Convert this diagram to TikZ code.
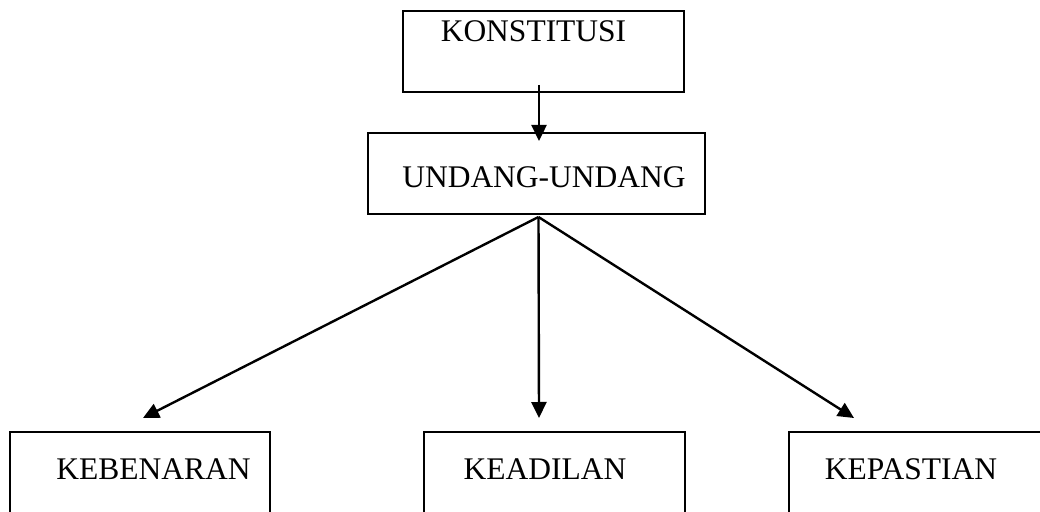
\documentclass[tikz,border=0pt]{standalone}
\usepackage{fontspec}
\setmainfont{Liberation Serif}
\usetikzlibrary{arrows.meta}

\tikzset{
	box/.style={draw, line width=2pt, inner sep=0pt, minimum height=81pt},
	lbl/.style={inner sep=0pt, font=\fontsize{31.5}{36}\selectfont},
	arr/.style={line width=2.4pt, -{Triangle[length=16pt,width=15pt]}}
}

\begin{document}
\begin{tikzpicture}[x=1pt,y=1pt]

	\useasboundingbox (0,0) rectangle (1040,511);
	
	\node[box, minimum width=281pt, label={[lbl,xshift=-10pt,yshift=20pt]center:KONSTITUSI}] (konstitusi) at (543.5,459.5) {};
	\node[box, minimum width=337pt, label={[lbl,xshift=7.5pt,yshift=-3.5pt]center:UNDANG-UNDANG}] (undang) at (536.5,337.5) {};
	
	\node[box, minimum width=260pt, label={[lbl,xshift=13.5pt,yshift=3.5pt]center:KEBENARAN}] (kebenaran) at (140,38.5) {};
	\node[box, minimum width=261pt, label={[lbl,xshift=-9.5pt,yshift=3.5pt]center:KEADILAN}] (keadilan) at (554.5,38.5) {};
	\node[box, minimum width=261pt, label={[lbl,xshift=-8.5pt,yshift=3.5pt]center:KEPASTIAN}] (kepastian) at (919.5,38.5) {};
	
	\draw[arr] ([xshift=-4.5pt,yshift=8pt]konstitusi.south) -- ([xshift=2.5pt,yshift=-9pt]undang.north);
	
	\coordinate (fan) at ([xshift=2pt,yshift=-2pt]undang.south);
	\draw[arr] (fan) -- ([xshift=3pt,yshift=13pt]kebenaran.north);
	\draw[arr] (fan) -- ([xshift=-15.5pt,yshift=13pt]keadilan.north);
	\draw[arr] (fan) -- ([xshift=-65.5pt,yshift=13pt]kepastian.north);
	 
\end{tikzpicture}
\end{document}
